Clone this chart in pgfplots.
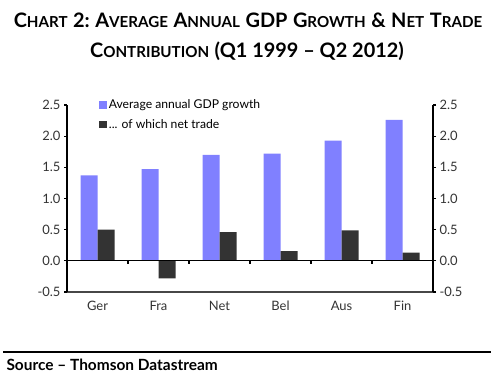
\documentclass[border=0pt]{standalone}
\usepackage{pgfplots}
\pgfplotsset{compat=1.18}
\usepackage{fontspec}
\setmainfont{Lato}
\definecolor{gdpblue}{RGB}{128,128,255}
\definecolor{ntgray}{RGB}{51,51,51}
\newcommand\SCa[2]{{\fontsize{20}{22}\selectfont #1}{\fontsize{15.2}{22}\selectfont #2}}
\newcommand\SP{\hspace{5.5bp}}
\begin{document}
\begin{tikzpicture}[x=1bp,y=1bp]
\path[use as bounding box] (0,0) rectangle (495,375);
\node[font=\bfseries] at (248,355) {\SCa{C}{HART}\SP\SCa{2:}{}\SP\SCa{A}{VERAGE}\SP\SCa{A}{NNUAL}\SP\SCa{GDP}{}\SP\SCa{G}{ROWTH}\SP\SCa{\&}{}\SP\SCa{N}{ET}\SP\SCa{T}{RADE}};
\node[font=\bfseries] at (247,324) {\SCa{C}{ONTRIBUTION}\SP\SCa{(Q1 1999 -- Q2 2012)}{}};
\begin{axis}[
  at={(67bp,83bp)}, anchor=south west,
  scale only axis, width=366bp, height=187bp,
  xmin=-0.5, xmax=5.5, ymin=-0.5, ymax=2.5,
  axis y line*=left, axis x line*=bottom,
  axis line style={line width=1.6pt, -},
  x axis line style={draw=ntgray!90},
  ytick={-0.5,0,...,2.5},
  yticklabel style={/pgf/number format/fixed,/pgf/number format/fixed zerofill,/pgf/number format/precision=1},
  xtick={0,...,5}, xticklabels={Ger,Fra,Net,Bel,Aus,Fin},
  x tick style={draw=none},
  y tick style={line width=1.2pt, black},
  tick align=outside, major tick length=3bp,
  /pgf/number format/assume math mode=true,
  tick label style={font=\fontsize{13}{15}\selectfont, color=black!80},
  xticklabel style={yshift=-4bp, text height=1.6ex, text depth=0.3ex},
  ybar=0pt, bar width=17bp,
  legend style={draw=none, fill=none, at={(0.088,1.04)}, anchor=north west,
    font=\fontsize{12.2}{14}\selectfont, row sep=5bp, inner sep=0pt,
    legend cell align=left},
  legend image code/.code={\fill[#1] (0bp,-3.8bp) rectangle (7.5bp,3.8bp);},
  clip=false,
]
\addplot[fill=gdpblue, draw=none] coordinates {(0,1.37) (1,1.47) (2,1.70) (3,1.72) (4,1.93) (5,2.26)};
\addlegendentry{Average annual GDP growth}
\addplot[fill=ntgray, draw=none] coordinates {(0,0.50) (1,-0.28) (2,0.46) (3,0.155) (4,0.49) (5,0.13)};
\addlegendentry{... of which net trade}
\draw[line width=1.3pt] (axis cs:-0.5,0) -- (axis cs:5.5,0);
\draw[line width=1.2pt] (axis cs:0.5,0) -- (axis cs:0.5,-0.058);
\draw[line width=1.2pt] (axis cs:1.5,0) -- (axis cs:1.5,-0.058);
\draw[line width=1.2pt] (axis cs:2.5,0) -- (axis cs:2.5,-0.058);
\draw[line width=1.2pt] (axis cs:3.5,0) -- (axis cs:3.5,-0.058);
\draw[line width=1.2pt] (axis cs:4.5,0) -- (axis cs:4.5,-0.058);
\end{axis}
\begin{axis}[
  at={(67bp,83bp)}, anchor=south west,
  scale only axis, width=366bp, height=187bp,
  xmin=-0.5, xmax=5.5, ymin=-0.5, ymax=2.5,
  axis y line*=right, axis x line=none,
  axis line style={line width=1.6pt, -},
  ytick={-0.5,0,...,2.5},
  yticklabel style={/pgf/number format/fixed,/pgf/number format/fixed zerofill,/pgf/number format/precision=1},
  y tick style={line width=1.2pt, black},
  tick align=outside, major tick length=3bp,
  /pgf/number format/assume math mode=true,
  tick label style={font=\fontsize{13}{15}\selectfont, color=black!80},
]
\end{axis}
\draw[line width=1.6pt] (3,23) -- (491,23);
\node[font=\bfseries\fontsize{15.5}{17}\selectfont, anchor=west] at (3,10.5) {Source -- Thomson Datastream};
\end{tikzpicture}
\end{document}
